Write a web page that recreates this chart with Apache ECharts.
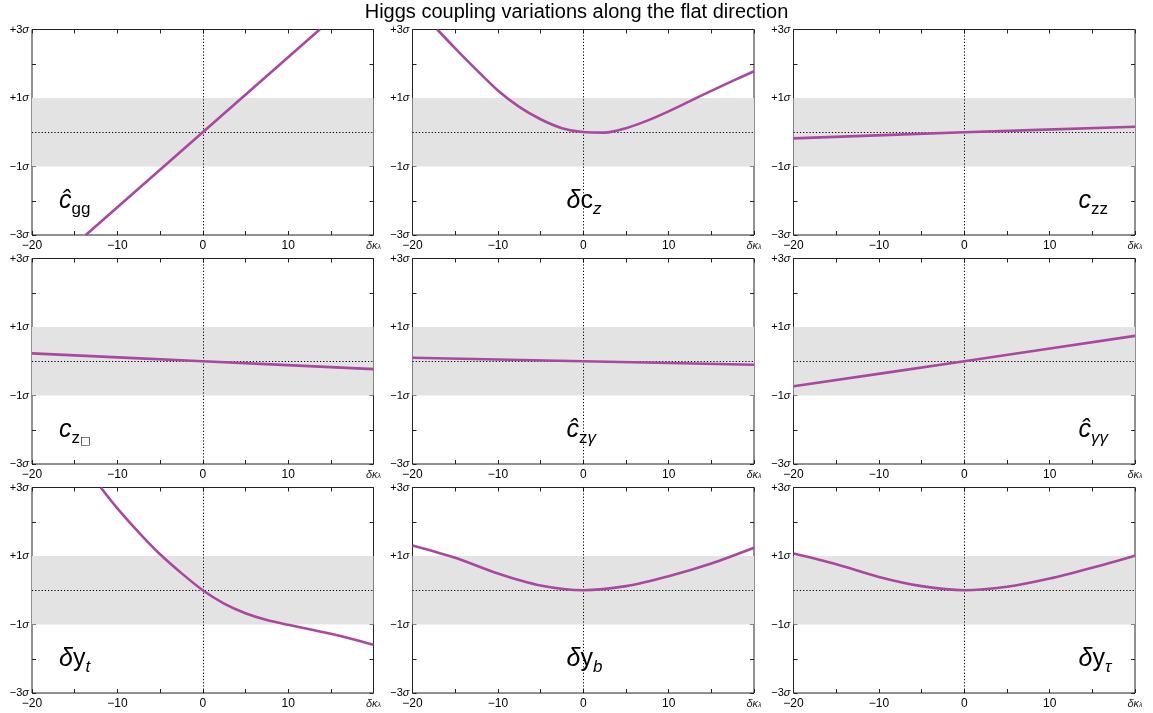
<!DOCTYPE html>
<html><head><meta charset="utf-8">
<script src="https://cdn.jsdelivr.net/npm/echarts@6/dist/echarts.min.js"></script>
<style>html,body{margin:0;padding:0;background:#fff}#c{width:1153px;height:713px}</style>
</head><body><div id="c"></div>
<script>
// ---------- data ----------
const chartTitle = 'Higgs coupling variations along the flat direction';
const xTickValues = [-20, -10, 0, 10];
const xTickText = ['−20', '−10', '0', '10'];
const yTickValues = [3, 1, -1, -3];
const yTickText = ['+3', '+1', '−1', '−3'];

const x_cgg = [-13.7, 0, 13.7];
const y_cgg = [-3, 0, 3];

const x_dcz = [-17.1, -15, -12.5, -10, -7.5, -5, -2.5, 0, 2.5, 5, 7.5, 10, 12.5, 15, 17.5, 20];
const y_dcz = [3.0, 2.45, 1.82, 1.22, 0.74, 0.38, 0.12, 0.005, -0.01, 0.12, 0.34, 0.61, 0.91, 1.21, 1.50, 1.78];

const x_czz = [-20, 0, 20];
const y_czz = [-0.18, 0, 0.16];

const x_czbox = [-20, 0, 20];
const y_czbox = [0.23, 0, -0.23];

const x_czg = [-20, 0, 20];
const y_czg = [0.10, 0, -0.10];

const x_cgaga = [-20, 0, 20];
const y_cgaga = [-0.73, 0, 0.74];

const x_dyt = [-11.95, -10, -7.5, -5, -2.5, 0, 2.5, 5, 7.5, 10, 12.5, 15, 17.5, 20];
const y_dyt = [3.0, 2.39, 1.69, 1.05, 0.50, 0.0, -0.39, -0.67, -0.87, -1.01, -1.14, -1.27, -1.42, -1.59];

const x_dyb = [-20, -15, -10, -5, 0, 5, 10, 15, 20];
const y_dyb = [1.31, 0.95, 0.49, 0.14, 0.0, 0.12, 0.41, 0.78, 1.24];

const x_dytau = [-20, -15, -10, -5, 0, 5, 10, 15, 20];
const y_dytau = [1.07, 0.76, 0.39, 0.12, 0.0, 0.10, 0.34, 0.66, 1.01];

const panelX = [x_cgg, x_dcz, x_czz, x_czbox, x_czg, x_cgaga, x_dyt, x_dyb, x_dytau];
const panelY = [y_cgg, y_dcz, y_czz, y_czbox, y_czg, y_cgaga, y_dyt, y_dyb, y_dytau];
const panelLabels = [
  '{ci|ĉ}{sub|gg}',
  '{gi|δ}{m|c}{subi|z}',
  '{ci|c}{sub|zz}',
  '{ci|c}{sub|z}{box|□}',
  '{ci|ĉ}{sub|z}{subi|γ}',
  '{ci|ĉ}{subi|γγ}',
  '{gi|δ}{m|y}{subi|t}',
  '{gi|δ}{m|y}{subi|b}',
  '{gi|δ}{m|y}{subi|τ}'
];
const panelLabelSide = ['left', 'center', 'right', 'left', 'center', 'right', 'left', 'center', 'right'];

// ---------- layout ----------
const colLeft = [32, 412.5, 793.5];
const rowTop = [29.5, 258.5, 487.5];
const gW = 341.5, gH = 205.5;
const FONT = '"Liberation Sans", Arial, sans-serif';
const LINE_COLOR = '#a8489f';
const sideOffset = { left: 27, center: 154, right: 285 };

const grids = [], xAxes = [], yAxes = [], series = [], graphics = [];

const richLabel = {
  ci: { fontFamily: FONT, fontSize: 25, fontStyle: 'italic', lineHeight: 32, verticalAlign: 'middle', color: '#000' },
  gi: { fontFamily: FONT, fontSize: 25, fontStyle: 'italic', lineHeight: 32, verticalAlign: 'middle', color: '#000' },
  m: { fontFamily: FONT, fontSize: 25, lineHeight: 32, verticalAlign: 'middle', color: '#000' },
  sub: { fontFamily: FONT, fontSize: 17, lineHeight: 16, verticalAlign: 'bottom', color: '#000' },
  subi: { fontFamily: FONT, fontSize: 17, fontStyle: 'italic', lineHeight: 16, verticalAlign: 'bottom', color: '#000' },
  box: { fontFamily: '"DejaVu Sans"', fontSize: 11, lineHeight: 16, verticalAlign: 'bottom', color: '#000' }
};

for (let i = 0; i < 9; i++) {
  const r = Math.floor(i / 3), c = i % 3;
  grids.push({ left: colLeft[c], top: rowTop[r], width: gW, height: gH, show: true,
    borderColor: '#222', borderWidth: 1, backgroundColor: 'transparent', containLabel: false });
  const tickCommon = { show: true, inside: true, length: 4, lineStyle: { color: '#222', width: 1 } };
  const noLine = { show: false, onZero: false };
  // bottom x
  xAxes.push({ type: 'value', gridIndex: i, min: -20, max: 20, interval: 5, position: 'bottom',
    axisLine: noLine, splitLine: { show: false }, axisTick: tickCommon,
    axisLabel: { show: true, margin: 5, showMinLabel: true, showMaxLabel: true, hideOverlap: false,
      fontFamily: FONT, fontSize: 12, color: '#000',
      formatter: v => {
        if (v === 20) return '{a|δκ}{b|λ}';
        const k = xTickValues.indexOf(v);
        return k < 0 ? '' : xTickText[k];
      },
      rich: { a: { fontFamily: FONT, fontSize: 11, fontStyle: 'italic', color: '#222' },
              b: { fontFamily: FONT, fontSize: 7, fontStyle: 'italic', color: '#222', verticalAlign: 'bottom', lineHeight: 8 } } } });
  // top x
  xAxes.push({ type: 'value', gridIndex: i, min: -20, max: 20, interval: 5, position: 'top',
    axisLine: noLine, splitLine: { show: false }, axisTick: tickCommon, axisLabel: { show: false } });
  // left y
  yAxes.push({ type: 'value', gridIndex: i, min: -3, max: 3, interval: 1, position: 'left',
    axisLine: noLine, splitLine: { show: false }, axisTick: tickCommon,
    axisLabel: { show: true, margin: 3, showMinLabel: true, showMaxLabel: true, hideOverlap: false,
      fontFamily: FONT, fontSize: 11, color: '#000',
      formatter: v => {
        const k = yTickValues.indexOf(v);
        return k < 0 ? '' : '{n|' + yTickText[k] + '}{s|σ}';
      },
      rich: { n: { fontFamily: FONT, fontSize: 11, color: '#000' },
              s: { fontFamily: FONT, fontSize: 11, fontStyle: 'italic', color: '#000' } } } });
  // right y
  yAxes.push({ type: 'value', gridIndex: i, min: -3, max: 3, interval: 1, position: 'right',
    axisLine: noLine, splitLine: { show: false }, axisTick: tickCommon, axisLabel: { show: false } });

  const xs = panelX[i], ys = panelY[i];
  const pts = xs.map((x, k) => [x, ys[k]]);
  series.push({
    type: 'line', xAxisIndex: 2 * i, yAxisIndex: 2 * i, data: pts, showSymbol: false,
    smooth: 0.3, clip: true, silent: true, z: 5,
    lineStyle: { color: LINE_COLOR, width: 2.6 },
    markArea: { silent: true, itemStyle: { color: '#e3e3e3' },
      data: [[{ yAxis: 1 }, { yAxis: -1 }]] },
    markLine: { silent: true, symbol: 'none', label: { show: false },
      lineStyle: { color: '#000', width: 1, type: [1.2, 2] },
      data: [{ xAxis: 0 }, { yAxis: 0 }] }
  });

  graphics.push({ type: 'text', z: 100,
    x: colLeft[c] + sideOffset[panelLabelSide[i]], y: rowTop[r] + 172,
    style: { text: panelLabels[i], rich: richLabel, align: 'left', verticalAlign: 'middle' } });
}

graphics.push({ type: 'text', z: 100, x: 576.5, y: 12,
  style: { text: chartTitle, fontFamily: FONT, fontSize: 20, fill: '#000', align: 'center', verticalAlign: 'middle' } });

const chart = echarts.init(document.getElementById('c'), null, { renderer: 'canvas' });
chart.setOption({
  animation: false,
  backgroundColor: '#fff',
  grid: grids, xAxis: xAxes, yAxis: yAxes, series: series, graphic: graphics
});
</script></body></html>
